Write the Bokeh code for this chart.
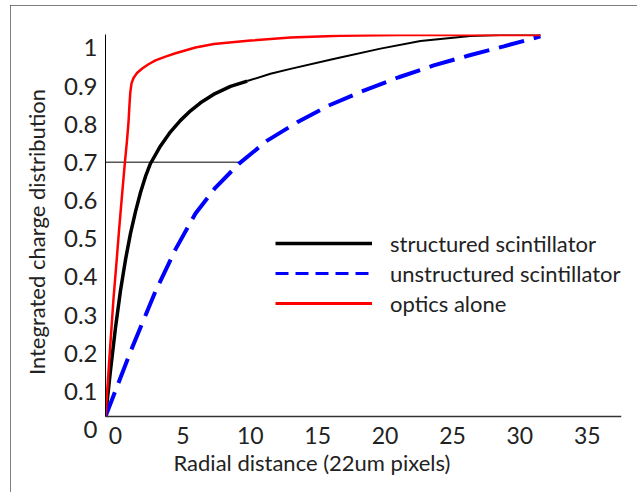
from bokeh.plotting import figure
from bokeh.models import LinearAxis, FixedTicker, Range1d, Legend, LegendItem, Span, Title
from bokeh.embed import file_html
from bokeh.resources import INLINE

# ---- data ----
structured_x = [-0.742, -0.371, 0.0, 0.371, 0.742, 1.113, 1.484, 1.855, 2.226, 2.596, 3.338, 4.080,
                4.822, 5.564, 6.306, 7.270, 8.531, 9.770, 11.499, 12.982, 16.172, 19.659, 22.626,
                24.852, 26.335, 28.561, 31.528]
structured_y = [0.034, 0.155, 0.267, 0.364, 0.445, 0.514, 0.571, 0.621, 0.663, 0.697, 0.743, 0.780,
                0.810, 0.835, 0.856, 0.878, 0.899, 0.913, 0.932, 0.945, 0.971, 0.998, 1.018,
                1.026, 1.031, 1.034, 1.034]

unstructured_x = [-0.742, 1.113, 2.967, 4.451, 5.935, 7.418, 9.147, 11.254, 13.479, 15.823, 18.420,
                  21.016, 23.613, 26.209, 28.806, 31.528]
unstructured_y = [0.034, 0.204, 0.362, 0.472, 0.566, 0.634, 0.696, 0.757, 0.805, 0.849, 0.888,
                  0.923, 0.954, 0.980, 1.004, 1.030]

optics_x = [-0.742, -0.445, -0.148, 0.074, 0.260, 0.482, 0.690, 0.853, 0.964, 1.039, 1.098, 1.187,
            1.335, 1.595, 1.981, 2.448, 2.967, 3.709, 4.451, 5.935, 7.292, 10.015, 12.982, 16.691,
            21.142, 31.528]
optics_y = [0.034, 0.191, 0.343, 0.438, 0.521, 0.613, 0.697, 0.757, 0.805, 0.852, 0.883, 0.907,
            0.921, 0.934, 0.946, 0.957, 0.967, 0.977, 0.986, 1.001, 1.010, 1.019, 1.027, 1.032,
            1.034, 1.034]

marker_x = [-0.742, 9.2]
marker_y = [0.7, 0.7]

series_labels = ["structured scintillator", "unstructured scintillator", "optics alone"]
x_ticks = [0, 5, 10, 15, 20, 25, 30, 35]
y_ticks = [0, 0.1, 0.2, 0.3, 0.4, 0.5, 0.6, 0.7, 0.8, 0.9, 1]
y_tick_labels = ["0", "0.1", "0.2", "0.3", "0.4", "0.5", "0.6", "0.7", "0.8", "0.9", "1"]
x_axis_title = "Radial distance (22um pixels)"
y_axis_title = "Integrated charge distribution"

X_START, X_END = -0.742, 37.54
Y_START, Y_END = 0.0, 1.035
X_AXIS_AT = 0.034          # the horizontal axis crosses slightly above 0 in the reference
THICK_UNTIL = 9.770        # the structured curve is drawn thicker up to here

FONT = "Lato"
TXT = "#222222"
NAN = float("nan")

p = figure(width=627, height=487, output_backend="svg", toolbar_location=None,
           x_range=Range1d(X_START, X_END), y_range=Range1d(Y_START, Y_END),
           x_axis_type=None, y_axis_type=None, title=None,
           min_border_left=95, min_border_right=16, min_border_top=29, min_border_bottom=63)
p.outline_line_color = None
p.xgrid.visible = False
p.ygrid.visible = False
p.background_fill_color = "white"
p.border_fill_color = "white"
p.styles = {"outline": "2px solid #555555", "outline-offset": "-2px",
            "margin-left": "10px", "margin-top": "5px"}

# y axis line (nearest the frame), starting at the x-axis crossing
yline = LinearAxis(ticker=FixedTicker(ticks=[]), bounds=(X_AXIS_AT, Y_END),
                   axis_line_color="black", axis_line_width=1,
                   major_tick_out=0, major_tick_in=0, minor_tick_out=0, minor_tick_in=0,
                   major_label_standoff=0)
p.add_layout(yline, "left")

# y tick labels + title
ylab = LinearAxis(ticker=FixedTicker(ticks=y_ticks),
                  major_label_overrides={t: l for t, l in zip(y_ticks, y_tick_labels)},
                  axis_line_color=None, major_tick_line_color=None, minor_tick_line_color=None,
                  major_tick_out=0, major_tick_in=0, minor_tick_out=0, minor_tick_in=0,
                  major_label_standoff=8,
                  major_label_text_font=FONT, major_label_text_font_size="24px",
                  major_label_text_color=TXT,
                  axis_label=y_axis_title, axis_label_text_font=FONT,
                  axis_label_text_font_size="22px", axis_label_text_font_style="normal",
                  axis_label_text_color=TXT, axis_label_standoff=11)
p.add_layout(ylab, "left")

xax = LinearAxis(ticker=FixedTicker(ticks=x_ticks),
                 axis_line_color=None,
                 major_tick_line_color=None, minor_tick_line_color=None,
                 major_tick_out=0, major_tick_in=0, minor_tick_out=0, minor_tick_in=0,
                 major_label_standoff=-3,
                 major_label_text_font=FONT, major_label_text_font_size="23px",
                 major_label_text_color=TXT)
p.add_layout(xax, "below")

# x axis title, placed left of centre as in the reference
p.add_layout(Title(text=x_axis_title, align="left", offset=68, standoff=0,
                   text_font=FONT, text_font_size="22px", text_font_style="normal",
                   text_color=TXT), "below")

# visible horizontal axis line at the crossing level
p.add_layout(Span(location=X_AXIS_AT, dimension="width", line_color="#333333", line_width=1.5))

# reference line at 0.7
p.line(marker_x, marker_y, line_color="#555555", line_width=1.5)

# curves
split = structured_x.index(THICK_UNTIL)
p.line(structured_x[:split + 1], structured_y[:split + 1], line_color="black", line_width=3.5,
       line_join="round")
p.line(structured_x[split:], structured_y[split:], line_color="black", line_width=2,
       line_join="round")
p.line(unstructured_x, unstructured_y, line_color="#0000ff", line_width=4, line_dash="26 10")
p.line(optics_x, optics_y, line_color="#ff0000", line_width=2.5, line_join="round")

# legend swatches (styled like the reference legend; NaN data draws nothing in the plot)
lb = p.line([NAN], [NAN], line_color="black", line_width=3.5)
lu = p.line([NAN], [NAN], line_color="#0000ff", line_width=3, line_dash="13 7")
lo = p.line([NAN], [NAN], line_color="#ff0000", line_width=3)
legend = Legend(items=[LegendItem(label=series_labels[0], renderers=[lb]),
                       LegendItem(label=series_labels[1], renderers=[lu]),
                       LegendItem(label=series_labels[2], renderers=[lo])],
                location=(170, 111), padding=0, margin=0, spacing=0,
                glyph_width=97, glyph_height=30, label_height=30, label_standoff=18,
                label_text_font=FONT, label_text_font_size="22px", label_text_color=TXT,
                border_line_color=None, background_fill_alpha=0)
p.add_layout(legend, "center")

open("out.html", "w").write(file_html(p, INLINE))
